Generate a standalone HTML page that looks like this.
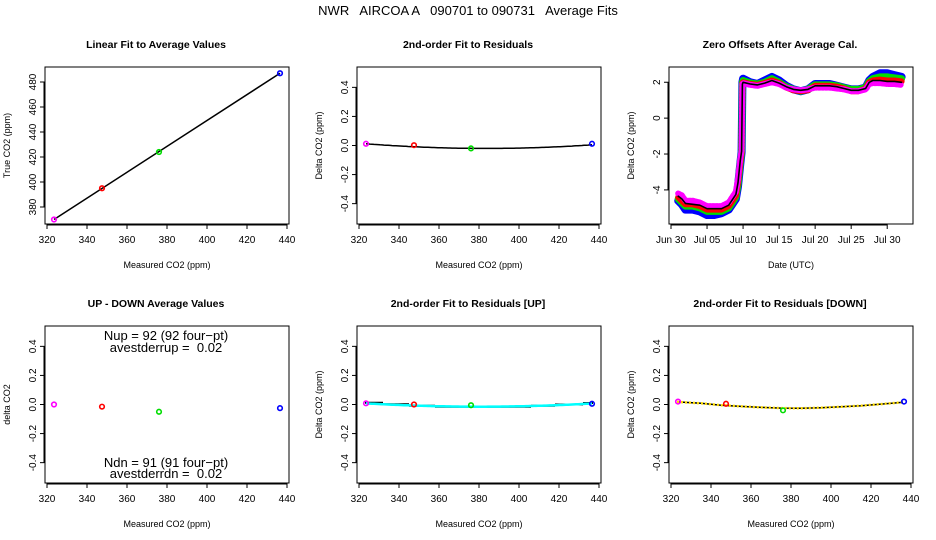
<!DOCTYPE html>
<html><head><meta charset="utf-8"><style>
html,body{margin:0;padding:0;background:#fff;}
svg{display:block;font-family:"Liberation Sans",sans-serif;}
</style></head><body>
<svg id="c" width="936" height="540" viewBox="0 0 936 540">
<text x="468" y="15" text-anchor="middle" font-size="13" style="white-space:pre" xml:space="preserve">NWR   AIRCOA A   090701 to 090731   Average Fits</text>
</svg>
<script>
// ---- data ----
const measX = [323.5, 347.5, 376, 436.5];
const ptColors = ['#ff00ff', '#ff0000', '#00dd00', '#0000ff'];
const trueY = [370, 395, 424, 487];
const resid = [0.012, 0.002, -0.02, 0.012];
const fitCoef = [0.012, -0.00107, 0.0000089]; // quadratic in (x-323.5)
const upDown = [0.0, -0.015, -0.05, -0.025];
const residUp = [0.008, 0.0, -0.005, 0.005];
const upStepX = [323, 332, 345, 358, 370, 393, 406, 418, 432, 437];
const upStepY = [0.012, 0.002, -0.008, -0.015, -0.015, -0.015, -0.008, 0.0, 0.01];
const dnCurveX = [323, 335, 345, 355, 365, 375, 385, 395, 405, 415, 425, 436];
const dnCurveY = [0.018, 0.008, -0.005, -0.013, -0.02, -0.025, -0.026, -0.022, -0.016, -0.008, 0.003, 0.015];
const residDn = [0.02, 0.005, -0.04, 0.02];
const xTicks = [320, 340, 360, 380, 400, 420, 440];
const y1Ticks = [380, 400, 420, 440, 460, 480];
const rTicks = [-0.4, -0.2, 0.0, 0.2, 0.4];
const dTicks = [-4, -2, 0, 2];
const dateTickDays = [0, 5, 10, 15, 20, 25, 30];
const dateTickLabels = ['Jun 30', 'Jul 05', 'Jul 10', 'Jul 15', 'Jul 20', 'Jul 25', 'Jul 30'];
const days = [1,1.5,2,3,4,5,6,7,8,8.5,9,9.3,9.6,9.8,9.9,10,11,12,13,14,15,16,17,18,19,20,21,22,23,24,25,26,27,27.5,28,29,30,31,32];
const zBlue = [-4.6,-4.8,-5.1,-5.1,-5.2,-5.4,-5.4,-5.3,-5.1,-4.8,-4.5,-3.8,-2.6,-1.9,2.0,2.2,2.0,1.9,2.1,2.3,2.1,1.8,1.6,1.5,1.6,1.9,1.9,1.9,1.8,1.7,1.6,1.6,1.7,2.1,2.3,2.5,2.5,2.4,2.3];
const zGreen = [-4.5,-4.7,-4.9,-4.9,-5.0,-5.2,-5.2,-5.2,-5.0,-4.7,-4.4,-3.7,-2.5,-1.9,2.0,2.1,1.95,1.9,2.0,2.2,2.0,1.75,1.6,1.5,1.6,1.85,1.85,1.85,1.8,1.7,1.6,1.6,1.7,2.05,2.2,2.3,2.3,2.25,2.2];
const zRed = [-4.4,-4.6,-4.8,-4.8,-4.9,-5.1,-5.1,-5.1,-4.9,-4.6,-4.3,-3.6,-2.5,-1.9,1.95,2.0,1.9,1.85,1.95,2.1,1.95,1.7,1.55,1.5,1.55,1.8,1.8,1.8,1.75,1.65,1.5,1.5,1.65,2.0,2.1,2.15,2.1,2.1,2.05];
const zMag = [-4.2,-4.3,-4.6,-4.6,-4.7,-4.9,-4.9,-4.9,-4.7,-4.4,-4.1,-3.4,-2.3,-1.8,1.9,1.95,1.85,1.8,1.9,2.0,1.9,1.7,1.6,1.55,1.6,1.7,1.7,1.7,1.65,1.6,1.5,1.5,1.6,1.9,1.95,1.95,1.9,1.9,1.85];
const zMed = [-4.35,-4.5,-4.75,-4.8,-4.85,-5.05,-5.05,-5.05,-4.85,-4.55,-4.25,-3.6,-2.4,-1.85,1.9,2.0,1.9,1.85,1.95,2.1,1.95,1.75,1.6,1.55,1.6,1.8,1.8,1.8,1.75,1.65,1.55,1.55,1.65,2.0,2.1,2.1,2.05,2.05,2.0];

// ---- helpers ----
const svg = document.getElementById('c');
const NS = 'http://www.w3.org/2000/svg';
function mk(tag, attrs, parent) {
  const e = document.createElementNS(NS, tag);
  for (const k in attrs) e.setAttribute(k, attrs[k]);
  (parent || svg).appendChild(e);
  return e;
}
function txt(s, x, y, size, anchor, parent, rot, weight) {
  const t = mk('text', {x: x, y: y, 'font-size': size, 'text-anchor': anchor || 'middle'}, parent);
  if (rot) t.setAttribute('transform', 'rotate(-90 ' + x + ' ' + y + ')');
  if (weight) t.setAttribute('font-weight', weight);
  t.textContent = s;
  return t;
}
function panel(ox, oy, name, title, xlab, ylab, xmin, xmax, ymin, ymax) {
  const g = mk('g', {});
  
  
  const L = ox + 45, R = ox + 289, T = oy + 67, B = oy + 224;
  const sx = v => L + 2 + (v - xmin) / (xmax - xmin) * (R - L - 4);
  const sy = v => B - (v - ymin) / (ymax - ymin) * (B - T);
  const box = mk('rect', {x: L, y: T, width: R - L, height: B - T, fill: 'none', stroke: '#000', 'stroke-width': 1}, g);
  
  
  const tt = txt(title, ox + 156, oy + 48, 10.5, 'middle', g, false, 'bold');
  
  
  const xl = txt(xlab, ox + 167, oy + 268, 9, 'middle', g);
  
  
  const yl = txt(ylab, ox + 10, (T + B) / 2, 9, 'middle', g, true);
  
  
  return {g, L, R, T, B, sx, sy};
}
function xaxis(p, ticks, labels, sxf) {
  const sx = sxf || p.sx;
  mk('line', {x1: sx(ticks[0]), x2: sx(ticks[ticks.length - 1]), y1: p.B + 1, y2: p.B + 1, stroke: '#000'}, p.g);
  ticks.forEach((v, i) => {
    mk('line', {x1: sx(v), x2: sx(v), y1: p.B, y2: p.B + 5, stroke: '#000'}, p.g);
    const t = txt(labels ? labels[i] : String(v), sx(v), p.B + 19, 10, 'middle', p.g);
    
    
  });
}
function yaxis(p, ticks, fmt) {
  ticks.forEach(v => {
    mk('line', {x1: p.L - 5, x2: p.L, y1: p.sy(v), y2: p.sy(v), stroke: '#000'}, p.g);
    const t = txt(fmt ? fmt(v) : String(v), p.L - 9, p.sy(v), 10, 'middle', p.g, true);
    
    
  });
  mk('line', {x1: p.L - 1, x2: p.L - 1, y1: p.sy(ticks[0]), y2: p.sy(ticks[ticks.length - 1]), stroke: '#000'}, p.g);
}
function pts(p, xs, ys) {
  xs.forEach((x, i) => {
    const c = mk('circle', {cx: p.sx(x), cy: p.sy(ys[i]), r: 2.3, fill: 'none', stroke: ptColors[i], 'stroke-width': 1.6}, p.g);
    
    
  });
}
const rfmt = v => v.toFixed(1);
const quad = x => fitCoef[0] + fitCoef[1] * (x - 323.5) + fitCoef[2] * (x - 323.5) * (x - 323.5);

// Panel 1
let p = panel(0, 0, 'panel-linear-fit', 'Linear Fit to Average Values', 'Measured CO2 (ppm)', 'True CO2 (ppm)', 320, 440, 366.4, 492);
xaxis(p, xTicks); yaxis(p, y1Ticks);
let ln = mk('line', {x1: p.sx(measX[0]), y1: p.sy(trueY[0]), x2: p.sx(measX[3]), y2: p.sy(trueY[3]), stroke: '#000', 'stroke-width': 1.5}, p.g);


pts(p, measX, trueY);

// Panel 2
p = panel(312, 0, 'panel-residual-fit', '2nd-order Fit to Residuals', 'Measured CO2 (ppm)', 'Delta CO2 (ppm)', 320, 440, -0.54, 0.54);
xaxis(p, xTicks); yaxis(p, rTicks, rfmt);
let d = '';
for (let x = 323.5; x <= 436.5; x += 1) d += (d ? 'L' : 'M') + p.sx(x).toFixed(1) + ',' + p.sy(quad(x)).toFixed(1);
ln = mk('path', {d: d, fill: 'none', stroke: '#000', 'stroke-width': 1.5}, p.g);


pts(p, measX, resid);

// Panel 3 - zero offsets
p = panel(624, 0, 'panel-zero-offsets', 'Zero Offsets After Average Cal.', 'Date (UTC)', 'Delta CO2 (ppm)', 0, 33.3, -5.9, 2.85);
xaxis(p, dateTickDays, dateTickLabels); yaxis(p, dTicks);
const series = [[zBlue, '#0000ff', 8], [zGreen, '#00dd00', 7], [zRed, '#ff0000', 6], [zMag, '#ff00ff', 6], [zMed, '#000000', 1.6]];
series.forEach((s, k) => {
  let dd = '';
  days.forEach((x, i) => { dd += (i ? 'L' : 'M') + p.sx(x).toFixed(1) + ',' + p.sy(s[0][i]).toFixed(1); });
  const e = mk('path', {d: dd, fill: 'none', stroke: s[1], 'stroke-width': s[2], 'stroke-linejoin': 'round', 'stroke-linecap': 'round'}, p.g);
  if (k === 3) e.setAttribute('stroke-dasharray', '2 1.5');
  
  
});

// Panel 4 - up-down
p = panel(0, 259, 'panel-up-down', 'UP - DOWN Average Values', 'Measured CO2 (ppm)', 'delta CO2', 320, 440, -0.54, 0.54);
xaxis(p, xTicks); yaxis(p, rTicks, rfmt);
pts(p, measX, upDown);
[['Nup = 92 (92 four\u2212pt)', 340], ['avestderrup =  0.02', 352], ['Ndn = 91 (91 four\u2212pt)', 467], ['avestderrdn =  0.02', 478]].forEach(a => {
  const t = txt(a[0], 166, a[1], 13, 'middle', p.g);
  t.setAttribute('style', 'white-space:pre');
  
  
});

// Panel 5 - UP
p = panel(312, 259, 'panel-residual-up', '2nd-order Fit to Residuals [UP]', 'Measured CO2 (ppm)', 'Delta CO2 (ppm)', 320, 440, -0.54, 0.54);
xaxis(p, xTicks); yaxis(p, rTicks, rfmt);
d = '';
upStepY.forEach((v, i) => { d += 'M' + p.sx(upStepX[i]).toFixed(1) + ',' + p.sy(v).toFixed(1) + 'L' + p.sx(upStepX[i + 1]).toFixed(1) + ',' + p.sy(v).toFixed(1); });
ln = mk('path', {d: d, fill: 'none', stroke: '#000', 'stroke-width': 2}, p.g);


d = '';
for (let x = 323.5; x <= 436.5; x += 1) d += (d ? 'L' : 'M') + p.sx(x).toFixed(1) + ',' + p.sy(0.008 - 0.0008 * (x - 323.5) + 0.000007 * (x - 323.5) * (x - 323.5)).toFixed(1);
ln = mk('path', {d: d, fill: 'none', stroke: '#00ffff', 'stroke-width': 2.5}, p.g);


pts(p, measX, residUp);

// Panel 6 - DOWN
p = panel(624, 259, 'panel-residual-down', '2nd-order Fit to Residuals [DOWN]', 'Measured CO2 (ppm)', 'Delta CO2 (ppm)', 320, 440, -0.54, 0.54);
xaxis(p, xTicks); yaxis(p, rTicks, rfmt);
d = '';
dnCurveX.forEach((x, i) => { d += (i ? 'L' : 'M') + p.sx(x).toFixed(1) + ',' + p.sy(dnCurveY[i]).toFixed(1); });
ln = mk('path', {d: d, fill: 'none', stroke: '#000', 'stroke-width': 1.5}, p.g);


ln = mk('path', {d: d, fill: 'none', stroke: '#ffdd00', 'stroke-width': 2.5, 'stroke-dasharray': '2 2'}, p.g);


pts(p, measX, residDn);
</script>
</body></html>
